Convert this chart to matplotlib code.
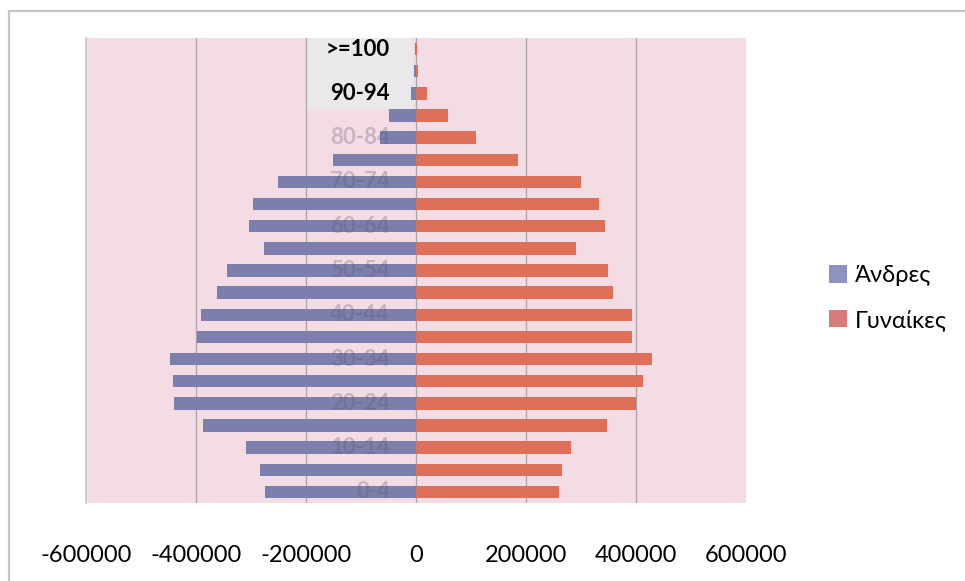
import matplotlib
matplotlib.use("Agg")
import matplotlib.pyplot as plt
from matplotlib.patches import Rectangle, Patch

# Age groups (bottom to top) and population per sex
age_groups = ['0-4', '5-9', '10-14', '15-19', '20-24', '25-29', '30-34',
              '35-39', '40-44', '45-49', '50-54', '55-59', '60-64', '65-69',
              '70-74', '75-79', '80-84', '85-89', '90-94', '95-99', '>=100']
men = [-275000, -284000, -309000, -387000, -440000, -442000, -447000,
       -398000, -391000, -362000, -343000, -276000, -303000, -296000,
       -251000, -151000, -65000, -49000, -10000, -3000, -1000]
women = [260000, 265000, 282000, 347000, 400000, 413000, 429000,
         393000, 393000, 358000, 349000, 291000, 344000, 333000,
         300000, 185000, 109000, 58000, 20000, 4000, 1500]
x_ticks = [-600000, -400000, -200000, 0, 200000, 400000, 600000]
series_names = ['Άνδρες', 'Γυναίκες']

men_color = '#7c7fab'
women_color = '#de6f58'

plt.rcParams['font.family'] = ['Lato', 'DejaVu Sans']

fig = plt.figure(figsize=(9.65, 5.81), dpi=100)
fig.patch.set_facecolor('white')

# outer chart frame
fig.patches.append(Rectangle((9 / 965, -0.05), 1.2, (581 - 11) / 581 + 0.05,
                             transform=fig.transFigure, fill=False,
                             edgecolor='#c6c6c6', lw=1.6, zorder=0))

ax = fig.add_axes([86 / 965, (581 - 503) / 581, 660 / 965, 465 / 581])
ax.set_facecolor('#f4dce4')

y = list(range(len(age_groups)))
ax.set_xlim(x_ticks[0], x_ticks[-1])
ax.set_ylim(-0.5, len(age_groups) - 0.5)

# light panel behind the top category labels
ax.add_patch(Rectangle((-200000, 17.3), 195000, 3.2, facecolor='#ebe8ec',
                       edgecolor='none', zorder=0.5))

for xv in x_ticks[1:-1]:
    ax.axvline(xv, color='#aaa4a9', lw=0.9, zorder=1)

bar_h = 0.56
ax.barh(y, men, height=bar_h, color=men_color, zorder=2)
ax.barh(y, women, height=bar_h, color=women_color, zorder=2)

# category labels next to the zero line, every second group
for i in range(0, len(age_groups), 2):
    on_top = i >= 18
    ax.annotate(age_groups[i], xy=(0, y[i]), xytext=(-26, 0),
                textcoords='offset pixels', ha='right', va='center',
                fontsize=16, fontweight='bold',
                color='black' if on_top else '#5a5a70',
                alpha=1.0 if on_top else 0.3, zorder=3)

ax.set_xticks(x_ticks)
ax.set_xticklabels([str(v) for v in x_ticks], fontsize=17)
ax.tick_params(axis='x', length=0, pad=30)
ax.set_yticks([])
for side in ['top', 'right']:
    ax.spines[side].set_visible(False)
ax.spines['left'].set_color('#c8c4c8')
ax.spines['left'].set_linewidth(1.2)
ax.spines['bottom'].set_visible(False)

handles = [Patch(facecolor='#8d93c0', edgecolor='none'),
           Patch(facecolor='#d97a7d', edgecolor='none')]
fig.legend(handles, series_names, loc='center left',
           bbox_to_anchor=(808 / 965, 1 - 298 / 581), frameon=False,
           fontsize=17, handlelength=0.75, handleheight=0.75,
           handletextpad=0.35, labelspacing=0.95)

fig.savefig('out.png', dpi=100)
